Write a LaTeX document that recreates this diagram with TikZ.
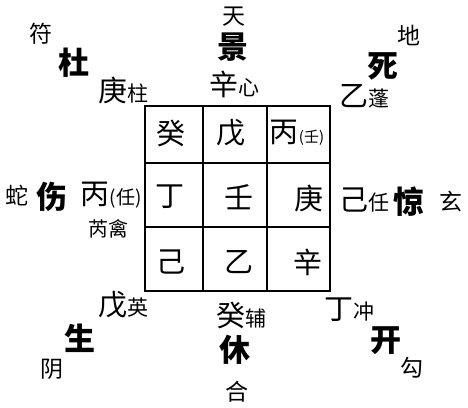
\documentclass[tikz,border=0pt]{standalone}
\usepackage{fontspec}
\newfontfamily\cjk{Noto Sans CJK SC}
\usetikzlibrary{positioning}
\newcommand\xingsz{\fontsize{21}{23}\selectfont}
\tikzstyle{stemtext}=[font=\cjk\fontsize{29}{31}\selectfont,inner sep=0pt]
\tikzstyle{godtext}=[font=\cjk\fontsize{23}{25}\selectfont,inner sep=0pt]
\tikzstyle{doortext}=[font=\cjk\bfseries\fontsize{31}{33}\selectfont,inner sep=0pt]
\tikzstyle{gridline}=[line width=1.8pt]

\begin{document}
\begin{tikzpicture}[x=1pt,y=-1pt]
  \useasboundingbox (0,0) rectangle (468,407);
  % nine palaces
  \draw[gridline] (145,106) rectangle (330,291);
  \foreach \v in {203,267}
    \draw[gridline] (\v,106) -- (\v,291);
  \foreach \h in {163,227}
    \draw[gridline] (145,\h) -- (330,\h);
  \foreach \name/\x/\y/\text in {C-1/171/133/癸, C-2/231/133/戊,
                                 C-4/170/197/丁, C-5/239/197/壬, C-6/309/198/庚,
                                 C-7/171/262/己, C-8/239/262/乙, C-9/308/262/辛}
    \node[stemtext] (\name) at (\x,\y) {\text};
  \node[stemtext] (C-3) at (297,133) {丙{\fontsize{15}{16}\selectfont(壬)}};
  % doors
  \foreach \name/\x/\y/\text in {D-du/74/63/杜, D-jing/233/47/景, D-si/383/66/死,
                                 D-shang/52/197/伤, D-jingg/409/202/惊,
                                 D-sheng/80/338/生, D-xiu/235/350/休, D-kai/386/341/开}
    \node[doortext] (\name) at (\x,\y) {\text};
  % gods
  \foreach \name/\x/\y/\text in {G-fu/41/34/符, G-tian/234/17/天, G-di/409/35/地,
                                 G-she/17/196/蛇, G-xuan/451/202/玄,
                                 G-yin/52/369/阴, G-he/237/392/合, G-gou/412/368/勾}
    \node[godtext] (\name) at (\x,\y) {\text};
  % stems with stars
  \foreach \name/\x/\y/\gan/\xing in {S-zhu/123.5/90/庚/柱, S-xin/234.5/84/辛/心,
                                      S-peng/364/96/乙/蓬, S-ren/364/200/己/任,
                                      S-ying/123.5/305/戊/英, S-fu/241.5/315/癸/辅,
                                      S-chong/349/310/丁/冲}
    \node[stemtext] (\name) at (\x,\y) {\gan{\xingsz\xing}};
  \node[stemtext] (S-rui) at (111,195) {丙{\fontsize{19}{21}\selectfont(任)}};
  \node[stemtext,font=\cjk\fontsize{20}{22}\selectfont] (S-qin) at (108,229) {芮禽};
\end{tikzpicture}
\end{document}
